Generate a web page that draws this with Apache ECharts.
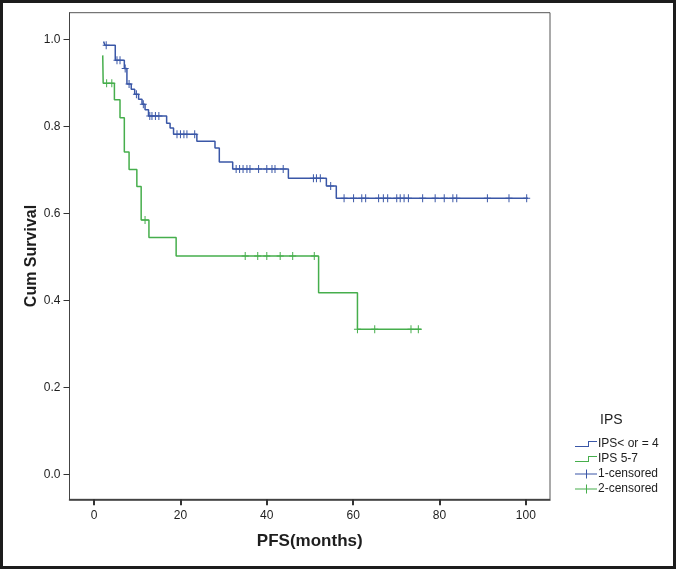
<!DOCTYPE html>
<html>
<head>
<meta charset="utf-8">
<script src="https://cdn.jsdelivr.net/npm/echarts@6/dist/echarts.min.js"></script>
<style>
html,body{margin:0;padding:0;background:#fff;}
#chart{width:676px;height:569px;}
</style>
</head>
<body>
<div id="chart"></div>
<script>
// ---- data ----
const xTicks = [0, 20, 40, 60, 80, 100];
const yTicks = [0, 0.2, 0.4, 0.6, 0.8, 1.0];

const seriesNames = ['IPS< or = 4', 'IPS 5-7', '1-censored', '2-censored'];

// Group 1 (IPS <= 4): step curve
const g1Times = [2.2, 2.5, 4.9, 7.0, 7.6, 8.6, 9.4, 10.3, 11.1, 11.8, 12.6, 16.8, 17.6, 18.4, 23.8, 28.0, 29.0, 32.1, 45.0, 53.8, 56.1, 100.5];
const g1Surv  = [0.995, 0.986, 0.952, 0.933, 0.897, 0.885, 0.874, 0.862, 0.851, 0.838, 0.824, 0.807, 0.796, 0.782, 0.766, 0.750, 0.718, 0.702, 0.681, 0.663, 0.635, 0.635];

// Group 1 censored observations
const g1CensTimes = [2.8, 5.3, 6.0, 7.2, 8.1, 9.8, 11.4, 12.9, 13.4, 14.2, 15.0, 19.2, 20.0, 20.8, 21.5, 23.3,
  32.9, 33.7, 34.5, 35.4, 36.1, 38.1, 40.0, 41.2, 41.9, 43.8, 50.8, 51.5, 52.4, 54.8,
  57.9, 60.1, 62.0, 62.9, 65.9, 67.0, 68.0, 70.1, 70.9, 71.8, 72.8, 76.1, 79.0, 81.1, 83.1, 84.0, 91.1, 96.1, 100.2];
const g1CensSurv = [0.986, 0.952, 0.952, 0.933, 0.897, 0.874, 0.851, 0.824, 0.824, 0.824, 0.824, 0.782, 0.782, 0.782, 0.782, 0.782,
  0.702, 0.702, 0.702, 0.702, 0.702, 0.702, 0.702, 0.702, 0.702, 0.702, 0.681, 0.681, 0.681, 0.663,
  0.635, 0.635, 0.635, 0.635, 0.635, 0.635, 0.635, 0.635, 0.635, 0.635, 0.635, 0.635, 0.635, 0.635, 0.635, 0.635, 0.635, 0.635, 0.635];

// Group 2 (IPS 5-7): step curve
const g2Times = [2.0, 2.1, 4.7, 6.0, 7.0, 8.1, 9.9, 10.9, 12.7, 19.0, 52.0, 61.0, 75.8];
const g2Surv  = [0.963, 0.899, 0.861, 0.820, 0.741, 0.701, 0.662, 0.585, 0.545, 0.502, 0.418, 0.334, 0.334];

// Group 2 censored observations
const g2CensTimes = [2.9, 4.1, 11.8, 35.0, 37.9, 40.0, 43.1, 46.0, 51.0, 61.0, 65.0, 73.4, 75.1];
const g2CensSurv  = [0.899, 0.899, 0.585, 0.502, 0.502, 0.502, 0.502, 0.502, 0.502, 0.334, 0.334, 0.334, 0.334];

// ---- styling ----
const BLUE = '#3a57a7';
const GREEN = '#46ae4c';
const TXT = '#1e1e1e';
const FONT = '"Liberation Sans", Arial, sans-serif';

const zip = (a, b) => a.map((v, i) => [v, b[i]]);

const plusSymbol = 'path://M0,3.5 L3,3.5 L3,0 L4,0 L4,3.5 L7,3.5 L7,4.5 L4,4.5 L4,8 L3,8 L3,4.5 L0,4.5 Z';
const stepIcon = 'path://M0,5 L13,5 L13,0 L22,0 L22,1 L14,1 L14,6 L0,6 Z';
const plusIcon = 'path://M0,4 L11,4 L11,0 L12,0 L12,4 L22,4 L22,5 L12,5 L12,9 L11,9 L11,5 L0,5 Z';

const chart = echarts.init(document.getElementById('chart'), null, {renderer: 'canvas'});

chart.setOption({
  animation: false,
  backgroundColor: '#ffffff',
  textStyle: {fontFamily: FONT},
  title: {
    text: 'IPS',
    left: 600, top: 413, padding: 0,
    textStyle: {fontFamily: FONT, fontSize: 14, fontWeight: 'normal', color: TXT}
  },
  legend: {
    orient: 'vertical',
    left: 570, top: 433,
    itemWidth: 22, itemHeight: 9, itemGap: 3,
    selectedMode: false,
    textStyle: {fontFamily: FONT, fontSize: 12, color: TXT, padding: [0, 0, 0, -4]},
    data: [
      {name: seriesNames[0], icon: stepIcon, itemStyle: {color: BLUE}},
      {name: seriesNames[1], icon: stepIcon, itemStyle: {color: GREEN}},
      {name: seriesNames[2], icon: plusIcon, itemStyle: {color: BLUE}},
      {name: seriesNames[3], icon: plusIcon, itemStyle: {color: GREEN}}
    ]
  },
  grid: {
    left: 69.5, right: 126, top: 12.7, bottom: 69.7,
    show: true, borderColor: '#555', borderWidth: 1, backgroundColor: '#fff'
  },
  xAxis: {
    type: 'value',
    min: -5.7, max: 105.6,
    name: 'PFS(months)',
    nameLocation: 'middle', nameGap: 34,
    nameTextStyle: {fontFamily: FONT, fontSize: 17, fontWeight: 'bold', color: TXT},
    axisLine: {show: true, onZero: false, lineStyle: {color: '#333', width: 1.5}},
    axisTick: {show: true, length: 6, customValues: xTicks, lineStyle: {color: '#333', width: 2}},
    axisLabel: {customValues: xTicks, margin: 10, fontFamily: FONT, fontSize: 12, color: TXT},
    splitLine: {show: false}
  },
  yAxis: {
    type: 'value',
    min: -0.0565, max: 1.061,
    name: 'Cum Survival',
    nameLocation: 'middle', nameGap: 30, nameRotate: 90, nameMoveOverlap: false,
    nameTextStyle: {fontFamily: FONT, fontSize: 16, fontWeight: 'bold', color: TXT},
    axisLine: {show: true, onZero: false, lineStyle: {color: '#444', width: 1}},
    axisTick: {show: true, length: 6, customValues: yTicks, lineStyle: {color: '#333', width: 1}},
    axisLabel: {customValues: yTicks, margin: 9, fontFamily: FONT, fontSize: 12, color: TXT,
      formatter: v => v.toFixed(1)},
    splitLine: {show: false}
  },
  graphic: [{
    type: 'rect', z: 100, silent: true,
    shape: {x: 1.5, y: 1.5, width: 673, height: 566},
    style: {fill: 'none', stroke: '#1c1c1c', lineWidth: 3}
  }],
  series: [
    {
      name: seriesNames[0], type: 'line', step: 'end', showSymbol: false, symbol: 'none',
      data: zip(g1Times, g1Surv),
      lineStyle: {color: BLUE, width: 1.5}, itemStyle: {color: BLUE}, z: 3
    },
    {
      name: seriesNames[1], type: 'line', step: 'end', showSymbol: false, symbol: 'none',
      data: zip(g2Times, g2Surv),
      lineStyle: {color: GREEN, width: 1.5}, itemStyle: {color: GREEN}, z: 2
    },
    {
      name: seriesNames[2], type: 'scatter', symbol: plusSymbol, symbolSize: [7, 8],
      data: zip(g1CensTimes, g1CensSurv),
      itemStyle: {color: BLUE, opacity: 1}, z: 4
    },
    {
      name: seriesNames[3], type: 'scatter', symbol: plusSymbol, symbolSize: [7, 8],
      data: zip(g2CensTimes, g2CensSurv),
      itemStyle: {color: GREEN, opacity: 1}, z: 4
    }
  ]
});
</script>
</body>
</html>
